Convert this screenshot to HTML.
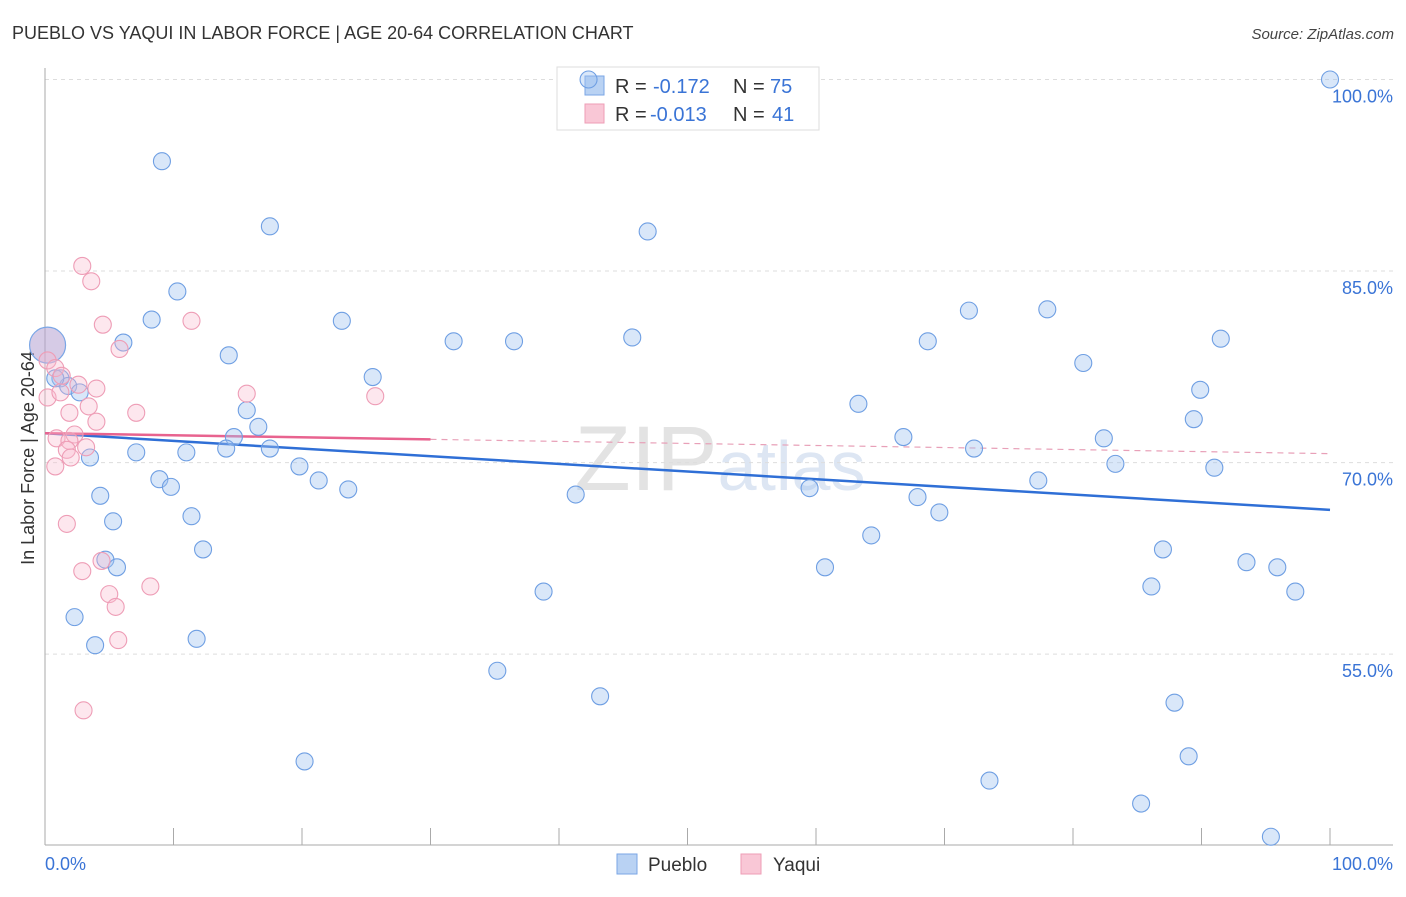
<!DOCTYPE html>
<html><head><meta charset="utf-8"><style>
body{margin:0;background:#fff;font-family:"Liberation Sans",sans-serif;}
svg text{font-family:"Liberation Sans",sans-serif;}
</style></head><body>
<svg id="chart" width="1406" height="892" xmlns="http://www.w3.org/2000/svg">
<text x="12" y="39" font-size="18" fill="#333">PUEBLO VS YAQUI IN LABOR FORCE | AGE 20-64 CORRELATION CHART</text>
<text x="1394" y="39" font-size="15" font-style="italic" fill="#444" text-anchor="end">Source: ZipAtlas.com</text>
<text x="720" y="490" font-size="92" fill="#e3e3e3" text-anchor="middle" font-family="Liberation Serif">ZIP<tspan fill="#dde6f3" font-family="Liberation Sans" font-size="70">atlas</tspan></text>
<text transform="translate(34,458) rotate(-90)" font-size="18" fill="#333" text-anchor="middle">In Labor Force | Age 20-64</text>
<g id="grid"></g><g id="axes"></g>
<g>
<rect x="557" y="67" width="262" height="63" fill="#fff" stroke="#ddd"/>
<rect x="585" y="76" width="19" height="19" fill="#b9d2f3" stroke="#7aa6e6"/>
<text x="615" y="93" font-size="20" fill="#333">R =</text><text x="653" y="93" font-size="20" fill="#3a74d6">-0.172</text>
<text x="733" y="93" font-size="20" fill="#333">N =</text><text x="770" y="93" font-size="20" fill="#3a74d6">75</text>
<rect x="585" y="104" width="19" height="19" fill="#f9c7d6" stroke="#ee9db6"/>
<text x="615" y="121" font-size="20" fill="#333">R =</text><text x="650" y="121" font-size="20" fill="#3a74d6">-0.013</text>
<text x="733" y="121" font-size="20" fill="#333">N =</text><text x="772" y="121" font-size="20" fill="#3a74d6">41</text>
</g>
<g id="trend"></g><g id="pts"></g>
<g>
<rect x="617" y="854" width="20" height="20" fill="#b9d2f3" stroke="#7aa6e6"/>
<text x="648" y="871" font-size="19" fill="#333">Pueblo</text>
<rect x="741" y="854" width="20" height="20" fill="#f9c7d6" stroke="#ee9db6"/>
<text x="773" y="871" font-size="19" fill="#333">Yaqui</text>
</g>
</svg>
<script>
const yTicks=[100,85,70,55];
const xTickLabels=["0.0%","100.0%"];
const puebloX=[42.3,100,9.1,17.5,46.9,10.3,8.3,23.1,6.1,14.3,31.8,36.5,45.7,71.9,78.0,68.7,91.5,80.8,25.5,1.2,1.8,2.7,0.8,15.7,63.3,16.6,89.4,89.9,14.7,14.1,17.5,7.1,11.0,3.5,66.8,72.3,82.4,19.8,83.3,91.0,8.9,9.8,21.3,23.6,77.3,59.5,4.3,41.3,67.9,11.4,69.6,5.3,12.3,64.3,87.0,4.7,5.6,60.7,93.5,95.9,86.1,38.8,97.3,2.3,11.8,3.9,35.2,43.2,87.9,20.2,89.0,73.5,85.3,95.4];
const puebloY=[100,100,93.6,88.5,88.1,83.4,81.2,81.1,79.4,78.4,79.5,79.5,79.8,81.9,82.0,79.5,79.7,77.8,76.7,76.6,76.0,75.5,76.6,74.1,74.6,72.8,73.4,75.7,72.0,71.1,71.1,70.8,70.8,70.4,72.0,71.1,71.9,69.7,69.9,69.6,68.7,68.1,68.6,67.9,68.6,68.0,67.4,67.5,67.3,65.8,66.1,65.4,63.2,64.3,63.2,62.4,61.8,61.8,62.2,61.8,60.3,59.9,59.9,57.9,56.2,55.7,53.7,51.7,51.2,46.6,47.0,45.1,43.3,40.7];
const yaquiX=[2.9,3.6,4.5,11.4,5.8,0.2,0.8,1.3,2.6,4.0,15.7,25.7,0.2,1.2,3.4,1.9,7.1,4.0,0.9,2.3,1.9,3.2,1.7,2.0,0.8,1.7,4.4,2.9,5.0,8.2,5.5,5.7,3.0];
const yaquiY=[85.4,84.2,80.8,81.1,78.9,78.0,77.4,76.8,76.1,75.8,75.4,75.2,75.1,75.5,74.4,73.9,73.9,73.2,71.9,72.2,71.7,71.2,71.0,70.4,69.7,65.2,62.3,61.5,59.7,60.3,58.7,56.1,50.6];
const bigPoint=[0.2,79.2];
const puebloTrend=[72.3,66.3];
const yaquiTrend=[72.3,70.7];
const NS="http://www.w3.org/2000/svg";
const X=v=>45+v*12.85, Y=v=>79.5+(100-v)*12.77;
function mk(parent,tag,attrs){const e=document.createElementNS(NS,tag);for(const k in attrs)e.setAttribute(k,attrs[k]);document.getElementById(parent).appendChild(e);return e;}
yTicks.forEach(t=>{
 const l=mk('grid','line',{x1:45,x2:1393,y1:Y(t),y2:Y(t),stroke:'#ddd','stroke-dasharray':'4,4'});
 
 
 const tx=mk('grid','text',{x:1393,y:Y(t)+23,'font-size':18,fill:'#3a74d6','text-anchor':'end'});
 tx.textContent=t.toFixed(1)+'%';
 
 
});
const ya=mk('axes','line',{x1:45,x2:45,y1:68,y2:845,stroke:'#aaa'});


const xa=mk('axes','line',{x1:45,x2:1393,y1:845,y2:845,stroke:'#aaa'});


for(let i=0;i<=10;i++){const t=mk('axes','line',{x1:X(i*10),x2:X(i*10),y1:828,y2:845,stroke:'#aaa'});
 
 }
const xl0=mk('axes','text',{x:45,y:870,'font-size':18,fill:'#3a74d6'});xl0.textContent=xTickLabels[0];


const xl1=mk('axes','text',{x:1393,y:870,'font-size':18,fill:'#3a74d6','text-anchor':'end'});xl1.textContent=xTickLabels[1];


const tb=mk('trend','line',{x1:X(0),y1:Y(puebloTrend[0]),x2:X(100),y2:Y(puebloTrend[1]),stroke:'#2f6fd6','stroke-width':2.5});


const yAt=x=>yaquiTrend[0]+(yaquiTrend[1]-yaquiTrend[0])*x/100;
const tp=mk('trend','line',{x1:X(0),y1:Y(yaquiTrend[0]),x2:X(30),y2:Y(yAt(30)),stroke:'#e8638f','stroke-width':2.5});


const td=mk('trend','line',{x1:X(30),y1:Y(yAt(30)),x2:X(100),y2:Y(yaquiTrend[1]),stroke:'#e8a0b8','stroke-width':1.2,'stroke-dasharray':'6,5'});


const bp=mk('pts','circle',{cx:X(bigPoint[0]),cy:Y(bigPoint[1]),r:18,fill:'rgba(180,160,210,0.55)',stroke:'#7aa6e6','stroke-width':1.2});


puebloX.forEach((x,i)=>{const c=mk('pts','circle',{cx:X(x),cy:Y(puebloY[i]),r:8.5,fill:'rgba(160,195,240,0.4)',stroke:'#6f9fe3','stroke-width':1.1});
 
 });
yaquiX.forEach((x,i)=>{const c=mk('pts','circle',{cx:X(x),cy:Y(yaquiY[i]),r:8.5,fill:'rgba(248,185,205,0.35)',stroke:'#ee9db6','stroke-width':1.1});
 
 });
</script>
</body></html>
